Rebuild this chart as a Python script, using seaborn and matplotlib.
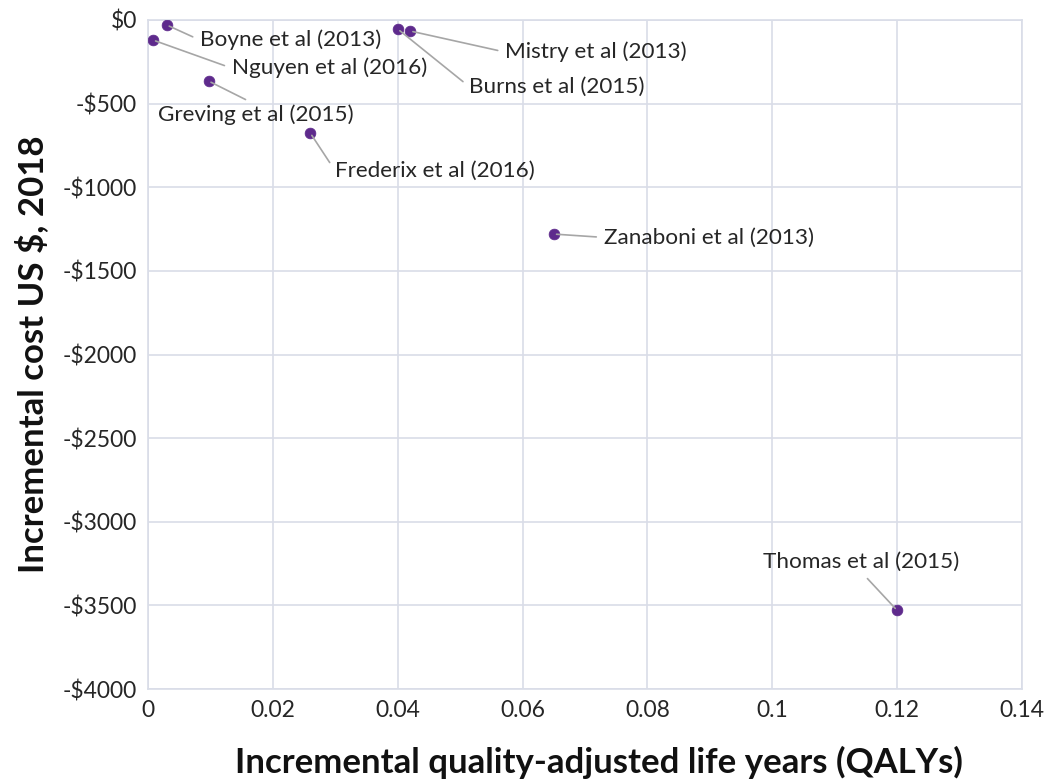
import matplotlib
matplotlib.use('Agg')
import matplotlib.pyplot as plt
import seaborn as sns
import pandas as pd
from matplotlib.ticker import FuncFormatter, MultipleLocator

# values
studies = ['Boyne et al (2013)', 'Nguyen et al (2016)', 'Greving et al (2015)',
           'Burns et al (2015)', 'Mistry et al (2013)', 'Frederix et al (2016)',
           'Zanaboni et al (2013)', 'Thomas et al (2015)']
qalys = [0.003, 0.0008, 0.0097, 0.040, 0.042, 0.026, 0.065, 0.120]
costs = [-30, -120, -365, -54, -66, -676, -1280, -3530]

# label anchor spots (data coords) and where the leader line meets the label
label_x = [0.0083, 0.0134, 0.0016, 0.0515, 0.0572, 0.0300, 0.0730, 0.1143]
label_y = [-120, -288, -568, -400, -192, -903, -1300, -3242]
label_ha = ['left', 'left', 'left', 'left', 'left', 'left', 'left', 'center']
label_rel = [(0, 0.5), (0, 0.5), (0.5, 1.0), (0, 0.5), (0, 0.5), (0, 0.5), (0, 0.5), (0.5, 0)]

df = pd.DataFrame({'study': studies, 'qaly': qalys, 'cost': costs})

sns.set_style('white')
plt.rcParams['font.family'] = ['Lato', 'DejaVu Sans']

fig = plt.figure(figsize=(10.51, 7.83), dpi=100)
ax = fig.add_axes([0.1408, 0.120, 0.8316, 0.8545])

grid_col = '#D9DDE8'
sns.scatterplot(data=df, x='qaly', y='cost', ax=ax, color='#5E2A8C',
                s=60, edgecolor='#5E2A8C', linewidth=0.5, zorder=5)

for i, name in enumerate(studies):
    ax.annotate(name, xy=(qalys[i], costs[i]), xytext=(label_x[i], label_y[i]),
                ha=label_ha[i], va='center', fontsize=16.2, color='#262626',
                arrowprops=dict(arrowstyle='-', color='#A6A6A6', lw=1.2,
                                shrinkA=3, shrinkB=2, relpos=label_rel[i]),
                zorder=6)

ax.set_xlim(0, 0.14)
ax.set_ylim(-4000, 0)
ax.xaxis.set_major_locator(MultipleLocator(0.02))
ax.yaxis.set_major_locator(MultipleLocator(500))
ax.xaxis.set_major_formatter(FuncFormatter(lambda v, p: '0' if abs(v) < 1e-9 else '{:g}'.format(round(v, 2))))
ax.yaxis.set_major_formatter(FuncFormatter(lambda v, p: '$0' if v == 0 else '-${:d}'.format(int(abs(v)))))
ax.grid(True, color=grid_col, linewidth=1.2)
ax.set_axisbelow(True)
for s in ax.spines.values():
    s.set_color(grid_col)
    s.set_linewidth(1.2)
ax.tick_params(axis='both', labelsize=16.5, colors='#262626', length=0, pad=8)

ax.set_xlabel('Incremental quality-adjusted life years (QALYs)', fontsize=25,
              fontweight='bold', color='#111111')
ax.set_ylabel('Incremental cost US $, 2018', fontsize=25, fontweight='bold',
              color='#111111', labelpad=10)
ax.xaxis.set_label_coords(0.516, -0.085)

fig.savefig('out.png', dpi=100)
